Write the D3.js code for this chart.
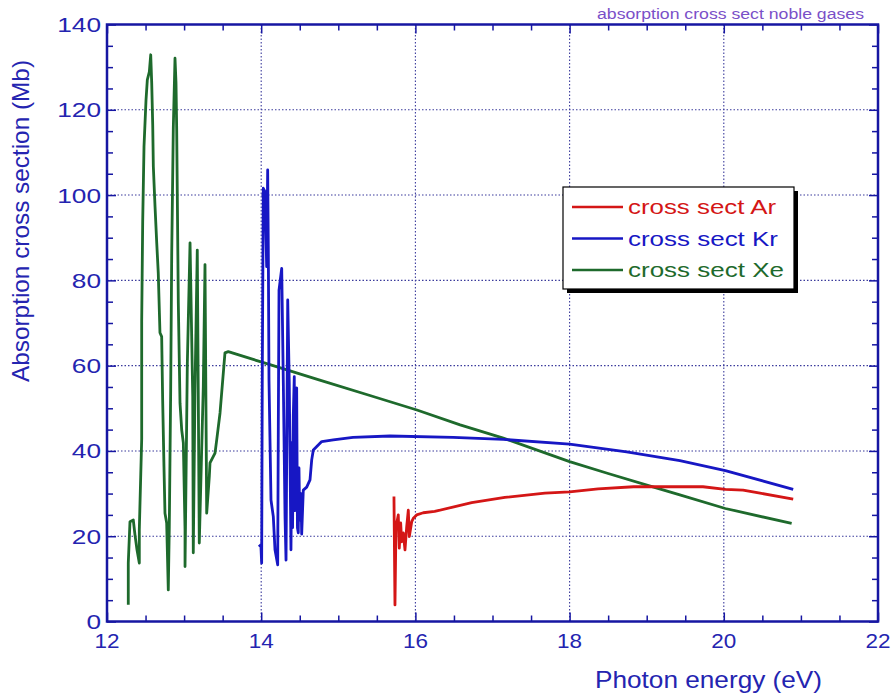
<!DOCTYPE html>
<html>
<head>
<meta charset="utf-8">
<script src="https://cdn.jsdelivr.net/npm/d3@7"></script>
<style>
  html, body { margin: 0; padding: 0; background: #ffffff; }
  svg { display: block; }
  text { font-family: "Liberation Sans", Arial, sans-serif; }
</style>
</head>
<body>
<svg id="chart" width="891" height="693"></svg>
<script>
// ---------- data ----------
const seriesNames = ["cross sect Ar", "cross sect Kr", "cross sect Xe"];

const xeEnergy = [12.276,12.276,12.298,12.341,12.363,12.389,12.419,12.419,12.450,12.450,12.463,12.480,12.506,12.523,12.549,12.567,12.580,12.593,12.601,12.623,12.645,12.665,12.687,12.709,12.722,12.739,12.752,12.774,12.795,12.808,12.826,12.839,12.860,12.882,12.895,12.904,12.925,12.947,12.969,12.990,13.012,13.012,13.042,13.077,13.112,13.119,13.141,13.171,13.197,13.249,13.271,13.293,13.327,13.336,13.401,13.423,13.466,13.530,13.573,14.03,14.76,15.41,16.02,16.58,17.14,18.0,18.5,19.09,19.43,20.02,20.88];
const xeCross  = [3.9,13.7,23.4,23.8,20.3,16.8,13.7,21.5,42.8,70.3,93.8,111.4,122.3,127.0,128.9,132.9,126.2,116.4,106.7,97.3,88.8,81.7,67.7,66.8,51.9,36.3,25.4,23.1,7.4,22.2,54.3,85.6,115.7,132.1,126.3,115.3,74.7,51.2,44.9,41.9,21.5,12.9,60.6,88.8,52.7,16.1,54.3,87.1,18.4,55.1,83.7,25.4,34.0,37.2,39.5,42.6,48.9,63.0,63.3,60.7,56.6,53.0,49.6,46.1,43.0,37.5,34.7,31.5,29.7,26.5,23.0];

const krEnergy = [13.971,13.997,14.006,14.014,14.027,14.049,14.071,14.084,14.092,14.101,14.127,14.157,14.179,14.214,14.222,14.231,14.266,14.287,14.309,14.322,14.344,14.364,14.386,14.398,14.407,14.416,14.429,14.437,14.448,14.460,14.470,14.481,14.490,14.500,14.516,14.525,14.546,14.590,14.633,14.655,14.676,14.785,14.935,15.19,15.67,16.49,17.14,18.0,18.74,19.43,20.02,20.9];
const krCross  = [18.0,17.5,13.7,57.4,101.6,100.8,83.2,105.9,87.9,56.7,28.5,24.6,16.8,13.3,45.7,77.7,82.8,55.9,24.6,14.4,75.4,55.9,16.8,42.0,22.0,48.0,57.4,26.0,50.0,54.8,22.0,20.8,36.0,23.8,30.0,20.5,30.8,31.5,33.2,37.9,40.2,42.2,42.6,43.2,43.5,43.2,42.7,41.6,39.8,37.7,35.4,31.0];

const arEnergy = [15.722,15.735,15.748,15.778,15.791,15.809,15.822,15.843,15.865,15.887,15.908,15.921,15.939,15.952,15.973,16.017,16.102,16.25,16.73,17.16,17.68,18.0,18.37,18.83,19.43,19.73,20.02,20.25,20.47,20.9];
const arCross  = [29.3,3.9,22.2,25.0,17.2,23.1,18.7,20.8,16.8,22.2,26.1,19.9,21.9,23.4,24.2,25.0,25.5,25.8,27.9,29.1,30.1,30.4,31.1,31.6,31.6,31.6,31.0,30.8,30.1,28.7];

const xTicks = [12, 14, 16, 18, 20, 22];
const yTicks = [0, 20, 40, 60, 80, 100, 120, 140];
const xMinorTicks = d3.range(12, 22.001, 0.5);
const yMinorTicks = d3.range(0, 140.001, 5);

const titleText = "absorption cross sect noble gases";
const xLabelText = "Photon energy (eV)";
const yLabelText = "Absorption cross section (Mb)";

// ---------- layout / style ----------
const colors = { ar: "#d41616", kr: "#1717c4", xe: "#1e6a2c" };
const axisColor = "#1616a2";
const textColor = "#2424b0";
const L = 107, R = 878, T = 24.5, B = 621.5;

const svg = d3.select("#chart");
const x = d3.scaleLinear().domain([12, 22]).range([L, R]);
const y = d3.scaleLinear().domain([0, 140]).range([B, T]);

// grid lines (dotted)
const grid = svg.append("g");
grid.selectAll("line.gx").data(xTicks.slice(1, -1)).enter().append("line")
  .attr("x1", d => x(d)).attr("x2", d => x(d)).attr("y1", T).attr("y2", B)
  .attr("stroke", "#3b3b9c").attr("stroke-width", 1.1).attr("stroke-dasharray", "1.5,2");
grid.selectAll("line.gy").data(yTicks.slice(1, -1)).enter().append("line")
  .attr("x1", L).attr("x2", R).attr("y1", d => y(d)).attr("y2", d => y(d))
  .attr("stroke", "#3b3b9c").attr("stroke-width", 1.1).attr("stroke-dasharray", "1.5,2");

// inward ticks on all four sides using d3 axes
function tickAxis(axisFn, scale, vals, size, transform) {
  const g = svg.append("g").attr("transform", transform)
    .call(axisFn(scale).tickValues(vals).tickSize(size).tickFormat(""));
  g.select(".domain").remove();
  g.selectAll(".tick line").attr("stroke", axisColor).attr("stroke-width", 1.5);
  return g;
}
const minorX = xMinorTicks.filter(v => !xTicks.includes(v));
const minorY = yMinorTicks.filter(v => !yTicks.includes(v));
tickAxis(d3.axisTop, x, minorX, 6, `translate(0,${B})`);
tickAxis(d3.axisTop, x, xTicks, 9, `translate(0,${B})`);
tickAxis(d3.axisBottom, x, minorX, 6, `translate(0,${T})`);
tickAxis(d3.axisBottom, x, xTicks, 9, `translate(0,${T})`);
tickAxis(d3.axisRight, y, minorY, 6, `translate(${L},0)`);
tickAxis(d3.axisRight, y, yTicks, 9, `translate(${L},0)`);
tickAxis(d3.axisLeft, y, minorY, 6, `translate(${R},0)`);
tickAxis(d3.axisLeft, y, yTicks, 9, `translate(${R},0)`);

// frame
svg.append("rect").attr("x", L).attr("y", T).attr("width", R - L).attr("height", B - T)
  .attr("fill", "none").attr("stroke", axisColor).attr("stroke-width", 2.5);

// tick labels
svg.append("g").selectAll("text").data(yTicks).enter().append("text")
  .attr("x", 101).attr("y", d => y(d)).attr("dy", "0.36em")
  .attr("text-anchor", "end").attr("font-size", 21).attr("fill", textColor)
  .attr("textLength", d => String(d).length * 14.6).attr("lengthAdjust", "spacingAndGlyphs")
  .text(d => d);
svg.append("g").selectAll("text").data(xTicks).enter().append("text")
  .attr("x", d => x(d)).attr("y", 648)
  .attr("text-anchor", "middle").attr("font-size", 21).attr("fill", textColor)
  .attr("textLength", d => String(d).length * 12.5).attr("lengthAdjust", "spacingAndGlyphs")
  .text(d => d);

// axis titles
svg.append("text").attr("x", 595).attr("y", 688).attr("font-size", 24).attr("fill", textColor)
  .attr("textLength", 227).attr("lengthAdjust", "spacingAndGlyphs").text(xLabelText);
svg.append("text").attr("transform", "translate(29,382) rotate(-90)")
  .attr("font-size", 24).attr("fill", textColor)
  .attr("textLength", 322).attr("lengthAdjust", "spacingAndGlyphs").text(yLabelText);

// title
svg.append("text").attr("x", 597).attr("y", 19).attr("font-size", 14).attr("fill", "#7a50c8")
  .attr("textLength", 267).attr("lengthAdjust", "spacingAndGlyphs").text(titleText);

// series lines
const line = d3.line().x(d => x(d[0])).y(d => y(d[1]));
const series = [
  { key: "ar", e: arEnergy, c: arCross },
  { key: "kr", e: krEnergy, c: krCross },
  { key: "xe", e: xeEnergy, c: xeCross }
];
const drawOrder = ["xe", "kr", "ar"];
drawOrder.forEach(k => {
  const s = series.find(v => v.key === k);
  svg.append("path").datum(s.e.map((v, i) => [v, s.c[i]]))
    .attr("d", line).attr("fill", "none").attr("stroke", colors[k])
    .attr("stroke-width", 2.8).attr("stroke-linejoin", "round");
});

// legend
const lg = svg.append("g");
lg.append("rect").attr("x", 567).attr("y", 191).attr("width", 231).attr("height", 102).attr("fill", "#000");
lg.append("rect").attr("x", 563).attr("y", 187).attr("width", 231).attr("height", 102)
  .attr("fill", "#fff").attr("stroke", "#000").attr("stroke-width", 1.2);
const legendLens = [148, 150, 156];
series.forEach((s, i) => {
  const yy = 207 + i * 31.5;
  lg.append("line").attr("x1", 572).attr("x2", 623).attr("y1", yy).attr("y2", yy)
    .attr("stroke", colors[s.key]).attr("stroke-width", 2.6);
  lg.append("text").attr("x", 628).attr("y", yy).attr("dy", "0.35em")
    .attr("font-size", 21).attr("fill", colors[s.key])
    .attr("textLength", legendLens[i]).attr("lengthAdjust", "spacingAndGlyphs")
    .text(seriesNames[i]);
});
</script>
</body>
</html>
